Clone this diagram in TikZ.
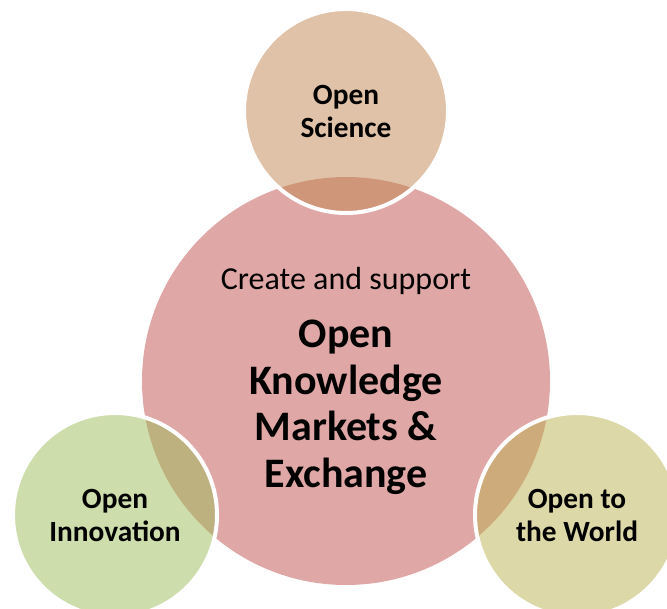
\documentclass[tikz,border=0pt]{standalone}
\usepackage{fontspec}
\setmainfont{Carlito}
\definecolor{knowred}{RGB}{192, 80, 77}
\definecolor{sciencetan}{RGB}{193, 133, 81}
\definecolor{innogreen}{RGB}{155, 187, 89}
\definecolor{worldolive}{RGB}{187, 177, 81}
\usepackage{tikz}
\usetikzlibrary{positioning}

\begin{document}
\begin{tikzpicture}[x=0.75pt, y=-0.75pt,
  bubble/.style={circle, draw=white, line width=3pt, fill opacity=0.5, text opacity=1,
    minimum size=153pt, inner sep=0pt, align=center, font=\bfseries\fontsize{22}{24.75}\selectfont}]
  \useasboundingbox (0,0) rectangle (667,608);
  \clip (0,0) rectangle (667,608);
  \node[circle, fill=knowred, fill opacity=0.5, text opacity=1, minimum size=306pt, inner sep=0pt,
    align=center, font=\bfseries\fontsize{31.5}{35}\selectfont] (market) at (346,381) {
    {\mdseries\fontsize{24}{28}\selectfont Create and support}\\[8.5pt]
    Open\\
    Knowledge\\
    Markets \&\\
    Exchange
  };
  \node[bubble, fill=sciencetan] (science) at (346,111) {Open\\Science};
  \node[bubble, fill=innogreen] (innovation) at (115,515) {Open\\Innovation};
  \node[bubble, fill=worldolive] (world) at (577,515) {Open to\\the World};
\end{tikzpicture}
\end{document}
